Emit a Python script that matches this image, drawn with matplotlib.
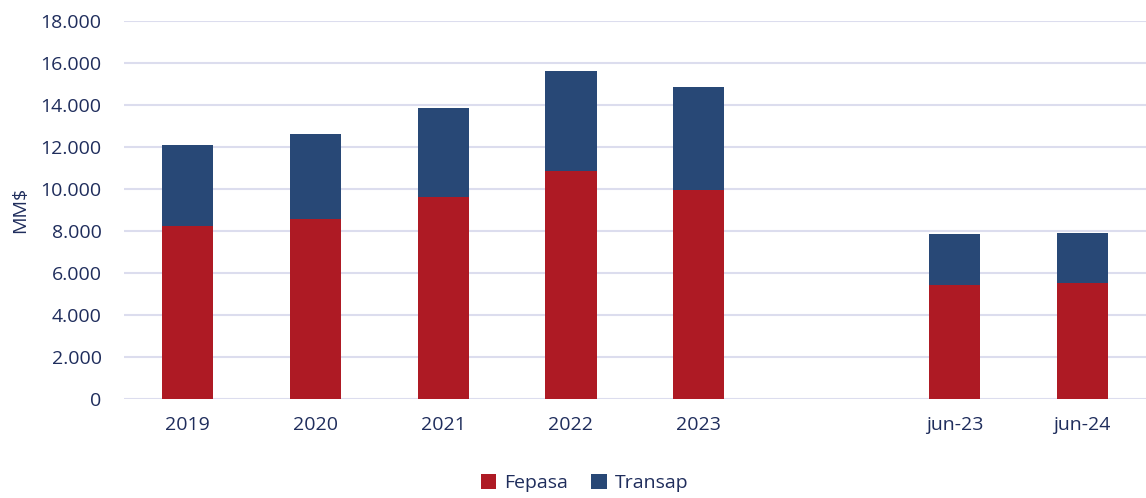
import numpy as np
import matplotlib.pyplot as plt
from matplotlib.ticker import FuncFormatter, MultipleLocator

# data (MM$)
labels = ['2019', '2020', '2021', '2022', '2023', '', 'jun-23', 'jun-24']
fepasa = [8240, 8590, 9635, 10840, 9970, 0, 5460, 5540]
transap = [3840, 4030, 4205, 4780, 4870, 0, 2410, 2365]

red = '#AE1A24'
blue = '#284876'
txt = '#1F2D5C'
grid = '#DCDDEE'

plt.rcParams['font.family'] = ['Open Sans', 'DejaVu Sans']

fig = plt.figure(figsize=(11.46, 4.98), dpi=100)
ax = fig.add_axes([0.108, 0.198, 0.892, 0.760])

x = np.arange(len(labels))
ax.bar(x, fepasa, width=0.4, color=red, label='Fepasa', zorder=3)
ax.bar(x, transap, width=0.4, bottom=fepasa, color=blue, label='Transap', zorder=3)

ax.set_xlim(-0.5, 7.5)
ax.set_ylim(0, 18000)
ax.yaxis.set_major_locator(MultipleLocator(2000))
ax.yaxis.set_major_formatter(FuncFormatter(lambda v, p: f'{int(v):,}'.replace(',', '.')))
ax.set_xticks(x)
ax.set_xticklabels(labels)
ax.grid(axis='y', color=grid, linewidth=1.5, zorder=0)
for s in ax.spines.values():
    s.set_visible(False)
ax.tick_params(length=0, colors=txt, labelsize=14)
ax.tick_params(axis='x', pad=12)
ax.tick_params(axis='y', pad=16)
ax.set_ylabel('MM$', color=txt, fontsize=14, labelpad=8)

leg = fig.legend(loc='center', bbox_to_anchor=(0.51, 0.03), ncol=2, frameon=False,
                 fontsize=14, handlelength=0.8, handleheight=0.8, handletextpad=0.4,
                 columnspacing=1.2)
for t in leg.get_texts():
    t.set_color(txt)

fig.savefig('out.png', dpi=100)
